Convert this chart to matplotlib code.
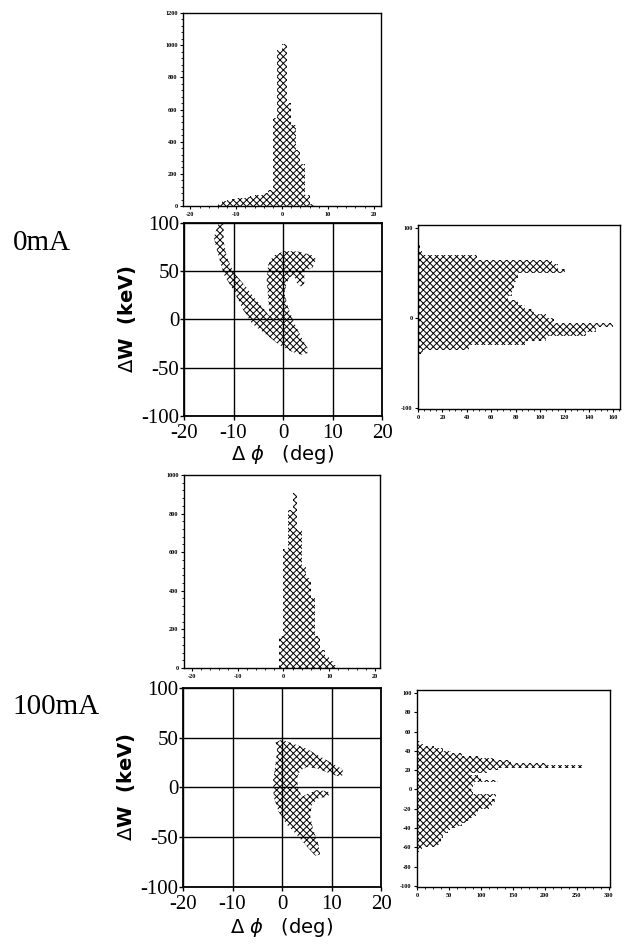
import numpy as np
import matplotlib
matplotlib.use("Agg")
import matplotlib.pyplot as plt
from matplotlib.ticker import MultipleLocator, AutoMinorLocator

plt.rcParams['hatch.color'] = 'black'
plt.rcParams['hatch.linewidth'] = 0.7
plt.rcParams['axes.unicode_minus'] = False

SERIF = 'Liberation Serif'
PATTERN = 'xxxxx'

# ---- 0 mA : phase histogram (counts vs delta phi, deg) ----
phi_edges_0 = [-14, -13, -12, -11, -10, -9, -8, -7, -6, -5, -4, -3, -2, -1,
               0, 1, 2, 3, 4, 5, 6, 7]
phi_counts_0 = [22, 32, 38, 42, 48, 52, 58, 62, 66, 68, 78, 100, 545, 970,
                1005, 640, 505, 350, 262, 70, 15]

# ---- 0 mA : energy histogram (counts vs delta W, keV) ----
w_edges_0 = [-40, -35, -30, -25, -20, -15, -10, -5, 0, 5, 10, 15, 20, 25,
             30, 35, 40, 45, 50, 55, 60, 65, 70, 75, 80, 85]
w_counts_0 = [4, 42, 88, 105, 138, 146, 160, 111, 105, 95, 88, 82, 74, 77,
              79, 79, 80, 82, 120, 115, 110, 48, 3, 2, 2]

# ---- 0 mA : outline of the particle distribution (deg, keV) ----
phi_shape_0 = [-12.0, -12.0, -11.3, -10.0, -7.7, -5.7, -3.7, -2.7,
               -3.0, -3.3, -3.0, -2.0, 0.3, 3.0, 5.7, 6.7, 6.0, 4.3, 4.3, 3.7,
               2.7, 2.3, 1.3, 0.7, 0.3, 1.0, 2.3, 4.0, 5.0, 4.9, 3.7, 1.7,
               -0.7, -3.3, -6.3, -8.0, -10.0, -12.0, -13.3, -14.0, -12.7]
w_shape_0 = [104, 81, 64, 49, 35, 22, 10, 3,
             23, 40, 57, 66, 71, 70.5, 67, 62.6, 54, 49, 37, 33.6,
             38.7, 45.5, 43.8, 37, 26.7, 13, -4, -21.3, -30, -35, -36.6, -33.2,
             -26.4, -16.1, -4.1, 9.6, 30, 47, 71, 85, 104]

# ---- 100 mA : phase histogram ----
phi_edges_100 = [-1, 0, 1, 2, 3, 4, 5, 6, 7, 8, 9, 10, 11, 12]
phi_counts_100 = [165, 615, 820, 905, 715, 525, 465, 360, 165, 95, 60, 35, 17]

# ---- 100 mA : energy histogram ----
w_edges_100 = list(np.arange(-65, 52.5, 2.5))
w_counts_100 = [4, 8, 30, 36, 37, 38, 40, 42, 48, 52, 62, 70, 76, 82, 88, 92,
                96, 100, 112, 118, 115, 122, 112, 124, 88, 86, 84, 88, 90, 126,
                100, 96, 84, 110, 126, 262, 204, 147, 120, 100, 70, 53, 40, 27,
                10, 4]

# ---- 100 mA : outline of the particle distribution ----
phi_shape_100 = [-1.3, 0.0, 2.3, 5.0, 7.3, 9.7, 12.0, 12.7, 11.7, 9.7, 7.3,
                 5.0, 3.7, 3.0, 3.3, 4.0, 5.3, 7.0, 9.0, 10.0, 9.0, 7.3, 6.0,
                 5.7, 6.3, 7.3, 7.7, 6.7, 5.0, 3.0, 1.0, -0.7, -1.7, -1.8,
                 -1.3, -1.0]
w_shape_100 = [45.5, 47.9, 43.9, 38.9, 32.2, 25.5, 18.9, 14.0, 10.6, 14.0,
               18.9, 20.5, 17.2, 9.0, -1.0, -9.4, -6.0, -2.7, -3.7, -6.0,
               -9.4, -11.0, -17.6, -29.3, -42.6, -55.8, -67.5, -68.5, -59.2,
               -47.6, -37.6, -24.3, -9.4, 7.3, 23.9, 37.2]

phase_ticks = [-20, -10, 0, 10, 20]
energy_ticks = [-100, -50, 0, 50, 100]

fig = plt.figure(figsize=(6.27, 9.46), dpi=100)


def small_ticks(ax):
    ax.tick_params(which='major', labelsize=4.5, length=2.5, width=0.8,
                   direction='out', pad=1.5)
    ax.tick_params(which='minor', length=1.5, width=0.6, direction='out')
    for lab in ax.get_xticklabels() + ax.get_yticklabels():
        lab.set_family(SERIF)
        lab.set_fontweight('bold')
    for s in ax.spines.values():
        s.set_linewidth(1.0)


def phase_hist(rect, edges, counts, ymax, ystep, xlim):
    ax = fig.add_axes(rect)
    ax.bar(edges[:-1], counts, width=np.diff(edges), align='edge',
           facecolor='white', edgecolor='black', linewidth=0, hatch=PATTERN)
    ax.set_xlim(*xlim)
    ax.set_ylim(0, ymax)
    ax.set_xticks(phase_ticks)
    ax.xaxis.set_minor_locator(AutoMinorLocator(5))
    ax.yaxis.set_major_locator(MultipleLocator(ystep))
    ax.yaxis.set_minor_locator(AutoMinorLocator(5))
    small_ticks(ax)
    return ax


def energy_hist(rect, edges, counts, xmax, xstep, ylim, yticks):
    ax = fig.add_axes(rect)
    ax.barh(edges[:-1], counts, height=np.diff(edges), align='edge',
            facecolor='white', edgecolor='black', linewidth=0, hatch=PATTERN)
    ax.set_xlim(0, xmax)
    ax.set_ylim(*ylim)
    ax.xaxis.set_major_locator(MultipleLocator(xstep))
    ax.xaxis.set_minor_locator(AutoMinorLocator(4))
    ax.set_yticks(yticks)
    small_ticks(ax)
    return ax


def phase_space(rect, phi, w, xpad):
    ax = fig.add_axes(rect)
    ax.fill(phi, w, facecolor='white', edgecolor='black', linewidth=0,
            hatch=PATTERN)
    ax.set_xlim(-20, 20)
    ax.set_ylim(-100, 100)
    ax.set_xticks(phase_ticks)
    ax.set_yticks(energy_ticks)
    ax.grid(True, color='black', linewidth=1.0)
    ax.set_axisbelow(False)
    ax.tick_params(labelsize=15, length=3, width=1.0, direction='out')
    ax.tick_params(axis='y', pad=0.5)
    ax.tick_params(axis='x', pad=3)
    for lab in ax.get_xticklabels() + ax.get_yticklabels():
        lab.set_family(SERIF)
    for s in ax.spines.values():
        s.set_linewidth(1.3)
    ax.set_ylabel(r'$\Delta$W  (keV)', fontsize=14, fontweight='bold', labelpad=2)
    ax.set_xlabel(r'$\Delta$ $\phi$   (deg)', fontsize=14, labelpad=xpad)
    return ax


# 0 mA block
phase_hist([0.2919, 0.7822, 0.3158, 0.2040], np.array(phi_edges_0), phi_counts_0,
           1200, 200, (-21.6, 21.6))
phase_space([0.2935, 0.5603, 0.3158, 0.2040], phi_shape_0, w_shape_0, 0)
energy_hist([0.6667, 0.5677, 0.3222, 0.1945], np.array(w_edges_0), w_counts_0,
            165.5, 20, (-100.7, 103.7), [-100, 0, 100])

# 100 mA block
phase_hist([0.2935, 0.2939, 0.3126, 0.2040], np.array(phi_edges_100), phi_counts_100,
           1000, 200, (-21.7, 21.1))
phase_space([0.2919, 0.0624, 0.3158, 0.2104], phi_shape_100, w_shape_100, 1)
energy_hist([0.6651, 0.0624, 0.3078, 0.2082], np.array(w_edges_100), w_counts_100,
            302, 50, (-101, 103), list(range(-100, 101, 20)))

fig.text(13 / 627, 1 - 243 / 946, '0mA', fontsize=21, family=SERIF, va='center')
fig.text(12 / 627, 1 - 707 / 946, '100mA', fontsize=21, family=SERIF, va='center')

fig.savefig('out.png', dpi=100)
